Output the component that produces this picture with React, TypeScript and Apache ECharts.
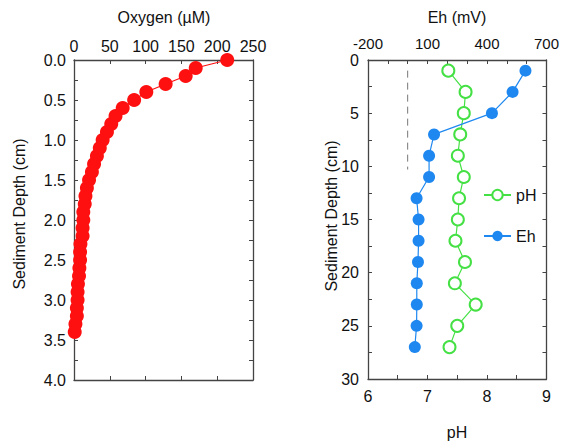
import React, { useEffect, useRef } from "react";
import * as echarts from "echarts";

const oxygenDepth = [0, 0.1, 0.2, 0.3, 0.4, 0.5, 0.6, 0.7, 0.8, 0.9, 1.0, 1.1, 1.2, 1.3, 1.4, 1.5, 1.6, 1.7, 1.8, 1.9, 2.0, 2.1, 2.2, 2.3, 2.4, 2.5, 2.6, 2.7, 2.8, 2.9, 3.0, 3.1, 3.2, 3.3, 3.4];
const oxygenValues = [214, 170, 156, 128, 101, 84, 68, 58, 52, 46, 40, 36, 32, 28, 25, 21, 18, 16, 15, 13, 13, 12, 12, 9, 8.5, 8.5, 7.5, 7, 5.5, 5, 5, 4, 4, 2, 1];

const profileDepth = [1, 3, 5, 7, 9, 11, 13, 15, 17, 19, 21, 23, 25, 27];
const ehValues = [594, 529, 425, 133, 108, 108, 45, 55, 55, 52, 46, 46, 45, 36];
const phValues = [7.35, 7.64, 7.61, 7.55, 7.51, 7.61, 7.53, 7.51, 7.47, 7.63, 7.46, 7.81, 7.5, 7.37];

const refEh = [0, 0];
const refDepth = [1, 10.3];

const FONT = "'Liberation Sans', Arial, sans-serif";
const AXIS_COLOR = "#444";
const TEXT_COLOR = "#111";
const RED = "#ff1010";
const BLUE = "#1e88f0";
const GREEN = "#44e044";
const FS = 16;

function tickAxis(extra: any) {
  return {
    type: "value",
    axisLine: { show: true, onZero: false, lineStyle: { color: AXIS_COLOR, width: 1.3 } },
    axisTick: { show: true, inside: true, length: 4, lineStyle: { color: AXIS_COLOR } },
    minorTick: { show: false },
    splitLine: { show: false },
    axisLabel: { show: false },
    ...extra,
  };
}

const labelStyle = { show: true, color: TEXT_COLOR, fontSize: FS, fontFamily: FONT };

export default function App() {
  const ref = useRef<HTMLDivElement>(null);
  useEffect(() => {
    const chart = echarts.init(ref.current!, null, { renderer: "svg" });
    const option: any = {
      animation: false,
      backgroundColor: "#fff",
      textStyle: { fontFamily: FONT },
      grid: [
        { left: 74, top: 60, width: 179, height: 320 },
        { left: 368, top: 60, width: 179, height: 319 },
      ],
      xAxis: [
        tickAxis({
          gridIndex: 0, position: "top", min: 0, max: 250, interval: 50,
          axisLabel: { ...labelStyle, margin: 6 },
        }),
        tickAxis({ gridIndex: 0, position: "bottom", min: 0, max: 250, interval: 50 }),
        tickAxis({
          gridIndex: 1, position: "top", min: -200, max: 700, interval: 300,
          minorTick: { show: true, splitNumber: 3, length: 4, lineStyle: { color: AXIS_COLOR } },
          axisLabel: { ...labelStyle, fontSize: 15, margin: 9 },
        }),
        tickAxis({
          gridIndex: 1, position: "bottom", min: 6, max: 9, interval: 1,
          minorTick: { show: true, splitNumber: 2, length: 4, lineStyle: { color: AXIS_COLOR } },
          axisLabel: { ...labelStyle, margin: 9 },
        }),
      ],
      yAxis: [
        tickAxis({
          gridIndex: 0, position: "left", inverse: true, min: 0, max: 4, interval: 0.5,
          minorTick: { show: true, splitNumber: 2, length: 4, lineStyle: { color: AXIS_COLOR } },
          axisLabel: { ...labelStyle, margin: 8, formatter: (v: number) => v.toFixed(1) },
        }),
        tickAxis({
          gridIndex: 0, position: "right", inverse: true, min: 0, max: 4, interval: 0.5,
          minorTick: { show: true, splitNumber: 2, length: 4, lineStyle: { color: AXIS_COLOR } },
        }),
        tickAxis({
          gridIndex: 1, position: "left", inverse: true, min: 0, max: 30, interval: 5,
          minorTick: { show: true, splitNumber: 2, length: 4, lineStyle: { color: AXIS_COLOR } },
          axisLabel: { ...labelStyle, margin: 9 },
        }),
        tickAxis({
          gridIndex: 1, position: "right", inverse: true, min: 0, max: 30, interval: 5,
          minorTick: { show: true, splitNumber: 2, length: 4, lineStyle: { color: AXIS_COLOR } },
        }),
      ],
      legend: {
        data: ["pH", "Eh"],
        orient: "vertical",
        left: 478,
        top: 182,
        itemWidth: 27,
        itemHeight: 13,
        itemGap: 25,
        textStyle: { fontSize: FS, color: TEXT_COLOR, fontFamily: FONT },
      },
      series: [
        {
          name: "Oxygen",
          type: "line",
          xAxisIndex: 0,
          yAxisIndex: 0,
          data: oxygenValues.map((v, i) => [v, oxygenDepth[i]]),
          symbol: "circle",
          symbolSize: 14,
          itemStyle: { color: RED },
          lineStyle: { color: RED, width: 1.2 },
        },
        {
          name: "ref",
          type: "line",
          xAxisIndex: 2,
          yAxisIndex: 2,
          data: refEh.map((v, i) => [v, refDepth[i]]),
          showSymbol: false,
          symbol: "none",
          lineStyle: { color: "#777", width: 1, type: [7, 5] },
          silent: true,
        },
        {
          name: "pH",
          type: "line",
          xAxisIndex: 3,
          yAxisIndex: 2,
          data: phValues.map((v, i) => [v, profileDepth[i]]),
          symbol: "emptyCircle",
          symbolSize: 12,
          itemStyle: { color: GREEN, borderColor: GREEN, borderWidth: 1.5 },
          lineStyle: { color: GREEN, width: 1.2 },
        },
        {
          name: "Eh",
          type: "line",
          xAxisIndex: 2,
          yAxisIndex: 2,
          data: ehValues.map((v, i) => [v, profileDepth[i]]),
          symbol: "circle",
          symbolSize: 12,
          itemStyle: { color: BLUE },
          lineStyle: { color: BLUE, width: 1.2 },
        },
      ],
      graphic: [
        { type: "text", x: 164, y: 17, style: { text: "Oxygen (µM)", fontSize: FS, fontFamily: FONT, fill: TEXT_COLOR, align: "center", verticalAlign: "middle" } },
        { type: "text", x: 457, y: 17, style: { text: "Eh (mV)", fontSize: FS, fontFamily: FONT, fill: TEXT_COLOR, align: "center", verticalAlign: "middle" } },
        { type: "text", x: 457, y: 432, style: { text: "pH", fontSize: FS, fontFamily: FONT, fill: TEXT_COLOR, align: "center", verticalAlign: "middle" } },
        { type: "text", x: 19, y: 214, rotation: Math.PI / 2, style: { text: "Sediment Depth (cm)", fontSize: FS, fontFamily: FONT, fill: TEXT_COLOR, align: "center", verticalAlign: "middle" } },
        { type: "text", x: 331, y: 216, rotation: Math.PI / 2, style: { text: "Sediment Depth (cm)", fontSize: FS, fontFamily: FONT, fill: TEXT_COLOR, align: "center", verticalAlign: "middle" } },
      ],
    };
    chart.setOption(option);
    return () => chart.dispose();
  }, []);
  return (
    <div
      ref={ref}
      style={{ position: "fixed", left: 0, top: 0, width: 562, height: 447, background: "#fff" }}
    />
  );
}
